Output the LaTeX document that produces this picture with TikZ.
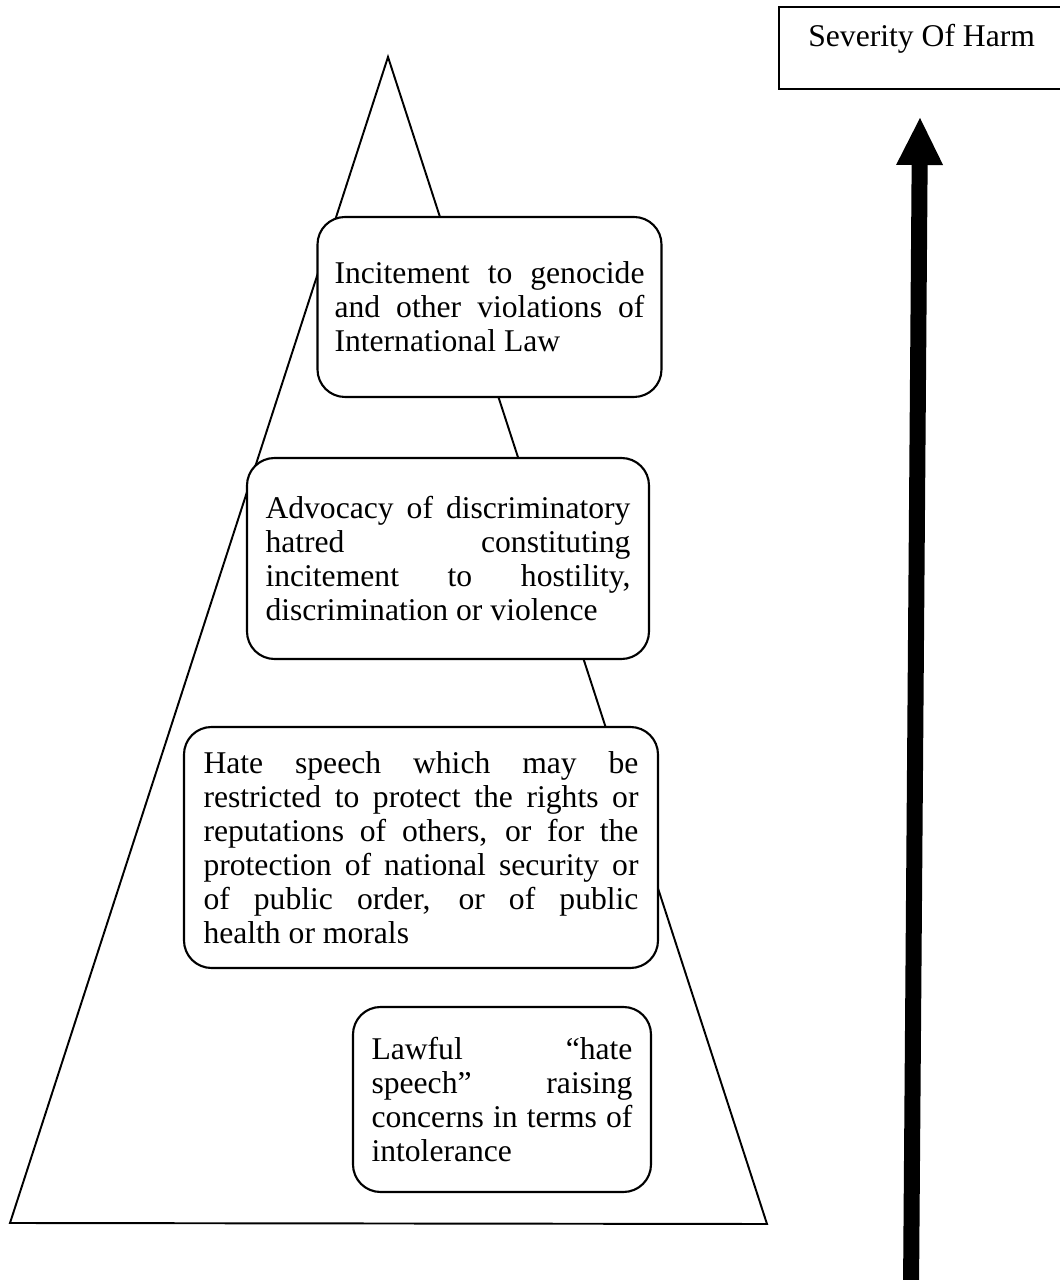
\documentclass[tikz,border=0pt]{standalone}
\usepackage{fontspec}
\setmainfont{Liberation Serif}
\usetikzlibrary{arrows.meta}
\hyphenpenalty=10000

\tikzset{
  level/.style={draw, line width=1.2pt, rounded corners=0.55cm, fill=white,
    inner xsep=0.3cm, inner ysep=0pt, align=justify,
    font=\fontsize{18pt}{19.3pt}\selectfont}
}

\begin{document}
\begin{tikzpicture}
  \useasboundingbox (0, 0) rectangle (21.18, 25.6);

  % pyramid
  \coordinate (apex) at (7.76, 24.46);
  \coordinate (baseleft) at (0.2, 1.14);
  \coordinate (baseright) at (15.34, 1.12);
  \draw[line width=1.1pt] (apex) -- (baseleft) -- (baseright) -- cycle;

  \node (genocide) [level, text width=6.2cm, minimum width=6.88cm, minimum height=3.6cm] at (9.79, 19.46)
    {Incitement to genocide\linebreak and other violations of\linebreak International Law};

  \node (advocacy) [level, text width=7.3cm, minimum width=8.04cm, minimum height=4.02cm] at (8.96, 14.43)
    {Advocacy of discriminatory\linebreak hatred constituting\linebreak incitement to hostility,\linebreak discrimination or violence};

  \node (hatespeech) [level, text width=8.7cm, minimum width=9.48cm, minimum height=4.82cm] at (8.42, 8.65)
    {Hate speech which may be\linebreak restricted to protect the rights or\linebreak reputations of others, or for the\linebreak protection of national security or\linebreak of public order, or of public\linebreak health or morals};

  \node (lawful) [level, text width=5.22cm, minimum width=5.96cm, minimum height=3.7cm] at (10.04, 3.61)
    {Lawful ``hate\linebreak speech'' raising\linebreak concerns in terms of\linebreak intolerance};

  % severity axis
  \node (harmbox) [draw, line width=0.9pt, minimum width=6cm, minimum height=1.64cm,
    anchor=south west, inner sep=0pt] at (15.56, 23.8) {};
  \node (harmlabel) [anchor=base west, inner sep=0pt,
    font=\fontsize{18pt}{19.3pt}\selectfont] at (16.16, 24.66) {Severity Of Harm};

  \coordinate (harmlow) at (18.22, -0.2);
  \coordinate (harmhigh) at (18.4, 23.24);
  \draw[line width=0.32cm, -{Triangle[width=0.94cm, length=0.94cm, line width=0pt]}]
    (harmlow) -- (harmhigh);
\end{tikzpicture}
\end{document}
